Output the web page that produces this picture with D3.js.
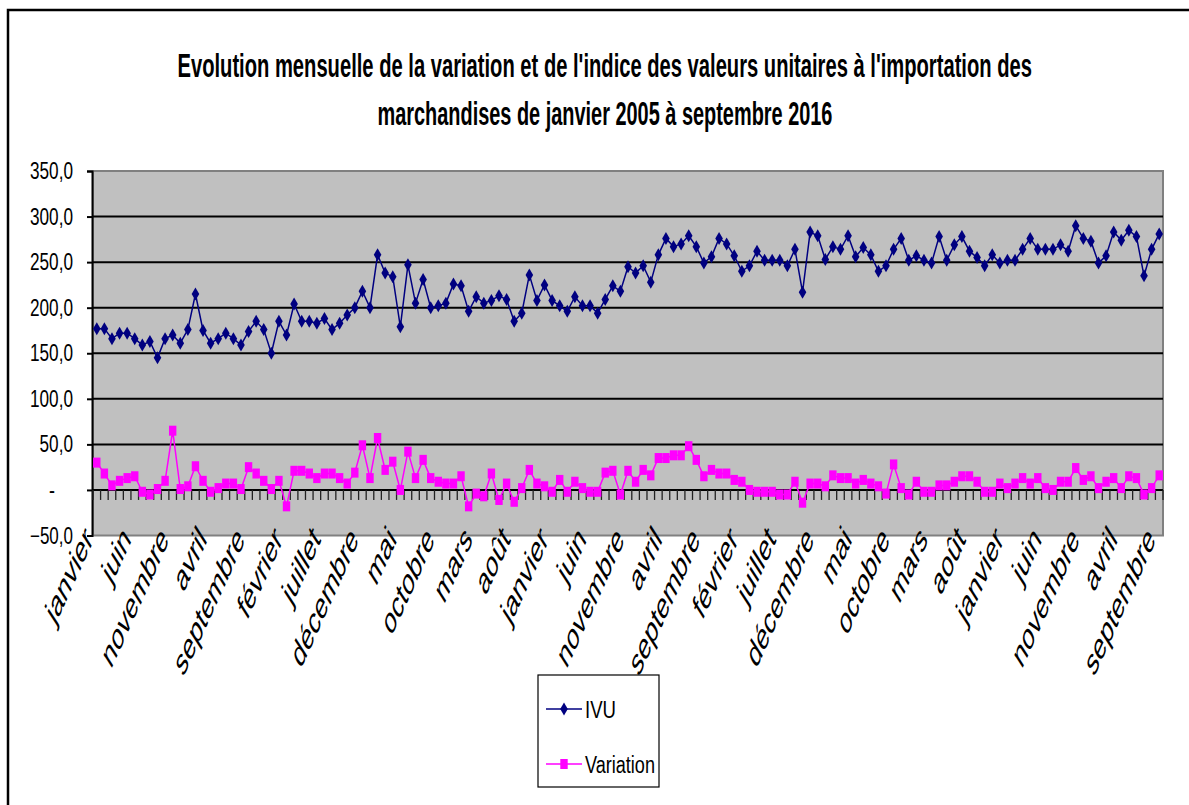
<!DOCTYPE html>
<html>
<head>
<meta charset="utf-8">
<script src="https://cdn.jsdelivr.net/npm/d3@7"></script>
<style>
  body { margin: 0; background: #fff; }
  text { font-family: "Liberation Sans", Arial, sans-serif; fill: #000; }
</style>
</head>
<body>
<div id="chart"></div>
<script>
// month names used on the category axis (one label every 5 months)
var monthNames = ["janvier", "février", "mars", "avril", "mai", "juin",
  "juillet", "août", "septembre", "octobre", "novembre", "décembre"];

// janvier 2005 -> septembre 2016 (141 months)
var months = [];
for (var yr = 2005; yr <= 2016; yr++) {
  for (var m = 0; m < 12; m++) {
    if (yr == 2016 && m > 8) break;
    months.push(monthNames[m]);
  }
}

var ivu = [177, 177, 166, 172, 172, 166, 159, 163, 145, 166, 170, 161,
  176, 215, 175, 161, 166, 172, 166, 159, 174, 185, 176, 150,
  185, 170, 204, 185, 185, 183, 188, 176, 183, 192, 200, 218,
  200, 258, 238, 234, 179, 247, 205, 231, 200, 202, 205, 226,
  224, 196, 212, 205, 208, 213, 209, 185, 194, 236, 208, 225,
  208, 202, 196, 212, 202, 202, 194, 209, 224, 218, 245, 238,
  246, 228, 258, 276, 267, 270, 279, 267, 249, 256, 276, 270,
  257, 240, 246, 262, 252, 252, 252, 246, 264, 217, 283, 279,
  253, 267, 264, 279, 256, 266, 258, 240, 246, 264, 276, 252,
  257, 252, 249, 278, 252, 269, 278, 262, 255, 246, 258, 249,
  252, 252, 264, 276, 264, 264, 264, 269, 262, 290, 276, 273,
  249, 257, 283, 274, 285, 278, 235, 264, 281];

var variation = [30, 18, 5, 10, 13, 15, -2, -5, 1, 10, 65, 1,
  4, 26, 10, -2, 2, 7, 7, 1, 25, 18, 10, 1,
  10, -18, 21, 21, 18, 13, 18, 18, 13, 7, 19, 49,
  13, 57, 22, 31, 0, 42, 13, 33, 13, 9, 7, 7,
  15, -18, -4, -7, 18, -11, 7, -13, 2, 22, 7, 4,
  -2, 11, -2, 9, 2, -2, -2, 19, 21, -5, 21, 9,
  22, 16, 35, 35, 38, 38, 48, 33, 15, 22, 18, 18,
  11, 9, 0, -2, -2, -2, -5, -5, 9, -14, 7, 7,
  4, 16, 13, 13, 7, 11, 7, 4, -4, 28, 2, -5,
  9, -2, -2, 5, 5, 9, 15, 15, 9, -2, -2, 7,
  2, 7, 13, 7, 13, 2, 0, 9, 9, 24, 11, 15,
  2, 9, 13, 2, 15, 13, -5, 2, 16];

var yTicks = [-50, 0, 50, 100, 150, 200, 250, 300, 350];

var W = 1189, H = 805;
var plot = {left: 93, right: 1163, top: 171, bottom: 535.5};

var svg = d3.select("#chart").append("svg")
  .attr("width", W)
  .attr("height", H);

svg.append("rect").attr("width", W).attr("height", H).attr("fill", "#fff");

// put a text at (x, y) and squeeze it horizontally to width w
// (the source chart uses a narrow face); anchor: 0 start, 0.5 middle, 1 end
function narrowText(parent, str, px, py, w, anchor) {
  var t = parent.append("text").attr("x", 0).attr("y", 0).text(str);
  var nat = t.node().getComputedTextLength();
  var k = w / nat;
  t.attr("transform", "translate(" + (px - anchor * w) + "," + py + ") scale(" + k + ",1)");
  return t;
}

// outer frame
svg.append("rect")
  .attr("x", 8).attr("y", 10)
  .attr("width", 1300).attr("height", 900)
  .attr("fill", "none")
  .attr("stroke", "#000")
  .attr("stroke-width", 2.5);

// title
var title = svg.append("g").attr("font-weight", "bold").attr("font-size", 34);
narrowText(title, "Evolution mensuelle de la variation et de l'indice des valeurs unitaires à l'importation des", 605, 77, 855, 0.5);
narrowText(title, "marchandises de janvier 2005 à septembre 2016", 605, 125, 455, 0.5);

var x = d3.scaleBand()
  .domain(d3.range(months.length))
  .range([plot.left, plot.right])
  .padding(0);
var cx = function(i) { return x(i) + x.bandwidth() / 2; };

var y = d3.scaleLinear()
  .domain([-50, 350])
  .range([plot.bottom, plot.top]);

// plot area
svg.append("rect")
  .attr("x", plot.left).attr("y", plot.top)
  .attr("width", plot.right - plot.left)
  .attr("height", plot.bottom - plot.top)
  .attr("fill", "#c0c0c0")
  .attr("stroke", "#808080")
  .attr("stroke-width", 2);

// gridlines
svg.append("g")
  .selectAll("line")
  .data(yTicks.filter(function(d) { return d > -50 && d < 350; }))
  .enter()
  .append("line")
  .attr("x1", plot.left).attr("x2", plot.right)
  .attr("y1", function(d) { return y(d); })
  .attr("y2", function(d) { return y(d); })
  .attr("stroke", "#000")
  .attr("stroke-width", 2);

// y axis
var yFmt = function(d) { return d == 0 ? "-" : d3.format(".1f")(d).replace(".", ","); };
var yAxis = svg.append("g")
  .attr("transform", "translate(" + (plot.left - 1) + ",0)")
  .call(d3.axisLeft(y).tickValues(yTicks).tickSize(5).tickFormat(""));
yAxis.select(".domain").attr("stroke", "#000").attr("stroke-width", 2);
yAxis.selectAll(".tick line").attr("stroke", "#000").attr("stroke-width", 2);

var yLabels = svg.append("g").attr("font-size", 23);
yTicks.forEach(function(d) {
  var s = yFmt(d);
  if (d == 0) {
    narrowText(yLabels, s, 52, y(d) + 8, 6, 0.5);
  } else {
    var nat = s.length - 1;
    narrowText(yLabels, s, 73, y(d) + 8, 43 * (nat + 0.5) / 4.5, 1);
  }
});

// category axis through zero, tick marks between categories
var xAxis = svg.append("g")
  .attr("transform", "translate(0," + y(0) + ")");
xAxis.append("line")
  .attr("x1", plot.left).attr("x2", plot.right)
  .attr("stroke", "#000").attr("stroke-width", 2);
xAxis.selectAll(".cat-tick")
  .data(d3.range(months.length + 1))
  .enter()
  .append("line")
  .attr("class", "cat-tick")
  .attr("x1", function(d) { return plot.left + d * x.step(); })
  .attr("x2", function(d) { return plot.left + d * x.step(); })
  .attr("y1", 0).attr("y2", 10)
  .attr("stroke", "#222").attr("stroke-width", 1.3);

// category labels under the plot
svg.append("g")
  .selectAll("text")
  .data(d3.range(0, months.length, 5))
  .enter()
  .append("text")
  .attr("font-size", 20.5)
  .attr("text-anchor", "end")
  .attr("transform", function(d) {
    return "translate(" + (cx(d) - 3) + "," + (plot.bottom + 5) + ") scale(1,1.85) rotate(-50)";
  })
  .text(function(d) { return months[d]; });

var line = d3.line()
  .x(function(d, i) { return cx(i); })
  .y(function(d) { return y(d); });

// IVU
svg.append("path")
  .datum(ivu)
  .attr("d", line)
  .attr("fill", "none")
  .attr("stroke", "#000080")
  .attr("stroke-width", 1.5);
svg.append("g")
  .selectAll("path")
  .data(ivu)
  .enter()
  .append("path")
  .attr("d", "M0,-6.5L3.8,0L0,6.5L-3.8,0Z")
  .attr("transform", function(d, i) { return "translate(" + cx(i) + "," + y(d) + ")"; })
  .attr("fill", "#000080");

// Variation
svg.append("path")
  .datum(variation)
  .attr("d", line)
  .attr("fill", "none")
  .attr("stroke", "#ff00ff")
  .attr("stroke-width", 1.5);
svg.append("g")
  .selectAll("rect")
  .data(variation)
  .enter()
  .append("rect")
  .attr("x", function(d, i) { return cx(i) - 3.7; })
  .attr("y", function(d) { return y(d) - 5; })
  .attr("width", 7.4).attr("height", 10)
  .attr("fill", "#ff00ff");

// legend
var legend = svg.append("g").attr("font-size", 23);
legend.append("rect")
  .attr("x", 538).attr("y", 675)
  .attr("width", 121).attr("height", 112)
  .attr("fill", "#fff").attr("stroke", "#000").attr("stroke-width", 1.2);

var items = [
  {name: "IVU", color: "#000080", marker: "diamond", y: 709, w: 31},
  {name: "Variation", color: "#ff00ff", marker: "square", y: 764, w: 70}
];
items.forEach(function(it) {
  legend.append("line")
    .attr("x1", 546).attr("x2", 582)
    .attr("y1", it.y).attr("y2", it.y)
    .attr("stroke", it.color).attr("stroke-width", 1.5);
  if (it.marker == "diamond") {
    legend.append("path")
      .attr("d", "M0,-6.5L3.8,0L0,6.5L-3.8,0Z")
      .attr("transform", "translate(564," + it.y + ")")
      .attr("fill", it.color);
  } else {
    legend.append("rect")
      .attr("x", 564 - 3.7).attr("y", it.y - 5)
      .attr("width", 7.4).attr("height", 10)
      .attr("fill", it.color);
  }
  narrowText(legend, it.name, 585, it.y + 8.5, it.w, 0);
});
</script>
</body>
</html>
